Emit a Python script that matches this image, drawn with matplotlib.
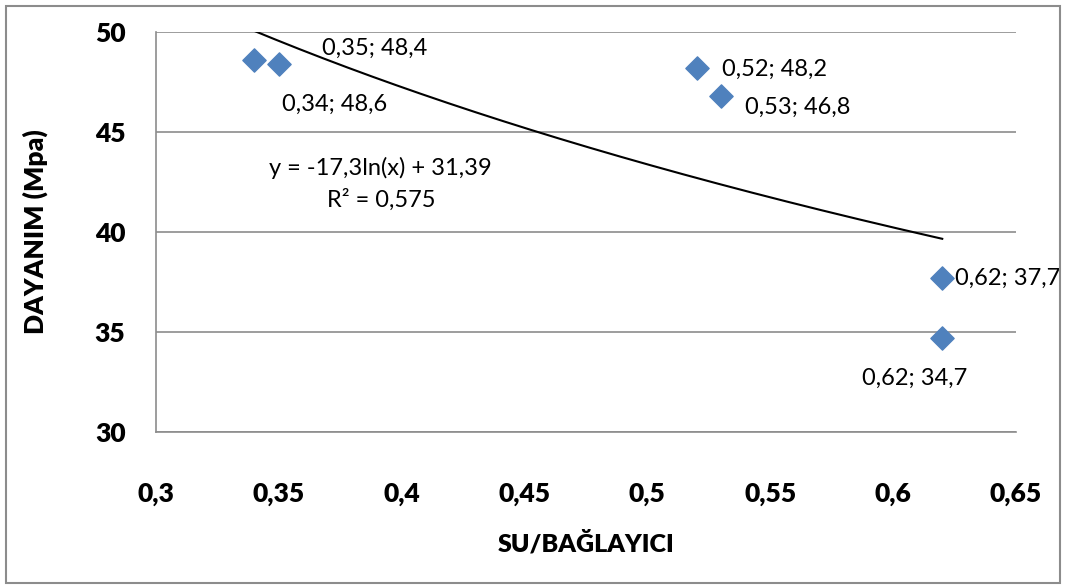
import numpy as np
import matplotlib
matplotlib.use("Agg")
import matplotlib.pyplot as plt
from matplotlib.patches import Rectangle

# data
su_bag = [0.34, 0.35, 0.52, 0.53, 0.62, 0.62]
dayanim = [48.6, 48.4, 48.2, 46.8, 37.7, 34.7]
labels = ["0,34; 48,6", "0,35; 48,4", "0,52; 48,2", "0,53; 46,8", "0,62; 37,7", "0,62; 34,7"]
xticks = [0.3, 0.35, 0.4, 0.45, 0.5, 0.55, 0.6, 0.65]
xticklabels = ["0,3", "0,35", "0,4", "0,45", "0,5", "0,55", "0,6", "0,65"]
yticks = [30, 35, 40, 45, 50]
trend_a, trend_b = -17.3, 31.39

# label offsets (points)
offs = [(20, -32), (31, 11), (18, -1), (17, -8), (9, 0), (-58, -29)]

plt.rcParams['font.family'] = ['Lato', 'DejaVu Sans']

fig = plt.figure(figsize=(10.71, 5.88), dpi=100)
ax = fig.add_axes([0.1457, 0.2653, 0.9486 - 0.1457, 0.9456 - 0.2653])

fig.patches.append(Rectangle((0.006, 0.008), 0.984, 0.982, transform=fig.transFigure,
                             fill=False, edgecolor='#8c8c8c', linewidth=1.5))

ax.set_xlim(0.3, 0.65)
ax.set_ylim(30, 50)
ax.set_yticks(yticks)
ax.set_xticks(xticks)
ax.set_xticklabels(xticklabels)
ax.grid(axis='y', color='#8c8c8c', linewidth=1.2)
ax.set_axisbelow(True)
for s in ['top', 'right']:
    ax.spines[s].set_visible(False)
for s in ['left', 'bottom']:
    ax.spines[s].set_color('#8c8c8c')
    ax.spines[s].set_linewidth(1.2)
ax.tick_params(length=0, labelsize=19)
ax.tick_params(axis='x', pad=36)
ax.tick_params(axis='y', pad=22)
for t in ax.get_xticklabels() + ax.get_yticklabels():
    t.set_fontweight('heavy')

xs = np.linspace(min(su_bag), max(su_bag), 200)
ax.plot(xs, trend_a * np.log(xs) + trend_b, color='black', linewidth=1.5)

ax.scatter(su_bag, dayanim, marker='D', s=140, color='#4F81BD', zorder=3)

for x, y, lab, (dx, dy) in zip(su_bag, dayanim, labels, offs):
    ax.annotate(lab, (x, y), xytext=(dx, dy), textcoords='offset points',
                fontsize=17, va='center', ha='left')

ax.text(0.3915, 42.4, "y = -17,3ln(x) + 31,39\nR² = 0,575", fontsize=17,
        ha='center', va='center', linespacing=1.5)

ax.set_xlabel("SU/BAĞLAYICI", fontsize=18, fontweight='heavy', labelpad=18)
ax.set_ylabel("DAYANIM (Mpa)", fontsize=19, fontweight='heavy', labelpad=34)

fig.savefig("out.png", dpi=100)
